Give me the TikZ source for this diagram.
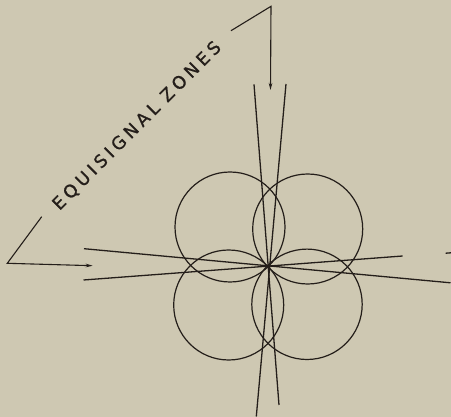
\documentclass[tikz,border=0pt]{standalone}
\usepackage{fontspec}
\newfontfamily\labfont[LetterSpace=23,FakeBold=1.2]{DejaVu Sans}
\usetikzlibrary{arrows.meta}
\definecolor{paper}{RGB}{206,200,178}
\definecolor{ink}{RGB}{36,30,26}
\tikzset{
  lobe/.style={draw=ink, line width=1.2pt},
  zone/.style={draw=ink, line width=1.3pt},
  leader/.style={draw=ink, line width=1.1pt},
  tip/.style={-{Stealth[length=7pt,width=3.6pt]}},
  lab/.style={text=ink, font=\labfont\fontsize{17.5}{17.5}\selectfont, inner sep=0pt}
}
\begin{document}
\begin{tikzpicture}[x=1pt,y=-1pt]
\useasboundingbox (0,0) rectangle (451,417);
\fill[paper] (0,0) rectangle (451,417);
% lobe centres
\coordinate (cUL) at (230,227);
\coordinate (cUR) at (307.7,229);
\coordinate (cLL) at (228.7,305);
\coordinate (cLR) at (307,304.3);
\draw[lobe] (cUL) circle[radius=55];
\draw[lobe] (cUR) circle[radius=55];
\draw[lobe] (cLL) circle[radius=55];
\draw[lobe] (cLR) circle[radius=55.2];
% equisignal lines
\coordinate (v1a) at (254,84.3);
\coordinate (v1b) at (279,405);
\coordinate (v2a) at (286,84);
\coordinate (v2b) at (256.3,416.5);
\coordinate (h1a) at (84,248.7);
\coordinate (h1b) at (450.5,282.8);
\coordinate (h2a) at (83.5,280);
\coordinate (h2b) at (402.7,256);
\coordinate (h2c) at (445.7,253.2);
\coordinate (h2d) at (451,252.8);
\draw[zone] (v1a) -- (v1b);
\draw[zone] (v2a) -- (v2b);
\draw[zone] (h1a) -- (h1b);
\draw[zone] (h2a) -- (h2b);
\draw[zone] (h2c) -- (h2d);
% label and leaders
\node[lab, rotate=45] (label) at (137,126) {EQUISIGNAL\hspace{9pt}ZONES};
\coordinate (l1) at (41.7,216.7);
\coordinate (l2) at (7.3,263.3);
\coordinate (l3) at (92.7,265.7);
\coordinate (t1) at (231,30.7);
\coordinate (t2) at (271,6.3);
\coordinate (t3) at (270.5,90);
\draw[leader, tip] (l1) -- (l2) -- (l3);
\draw[leader, tip] (t1) -- (t2) -- (t3);
\end{tikzpicture}
\end{document}
